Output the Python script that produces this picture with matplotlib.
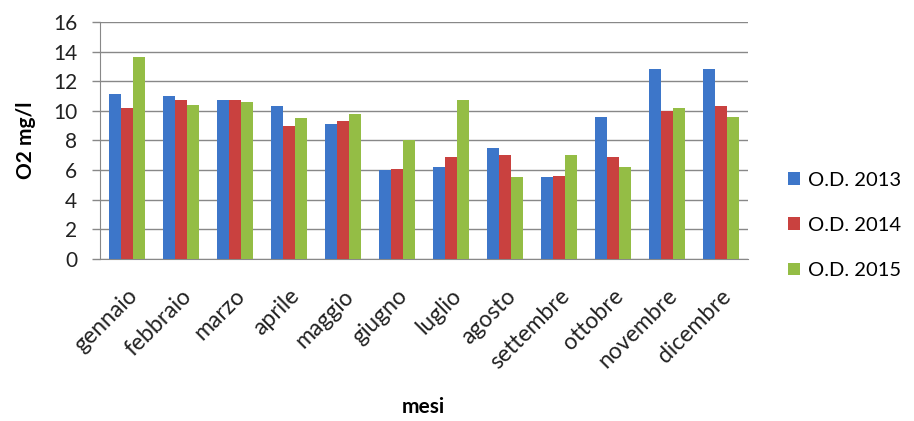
import matplotlib
matplotlib.use("Agg")
import matplotlib.pyplot as plt
import numpy as np

# Monthly dissolved oxygen (mg/l) for three years
mesi = ["gennaio", "febbraio", "marzo", "aprile", "maggio", "giugno",
        "luglio", "agosto", "settembre", "ottobre", "novembre", "dicembre"]
od_2013 = [11.1, 11.0, 10.7, 10.3, 9.1, 6.0, 6.2, 7.5, 5.5, 9.6, 12.8, 12.8]
od_2014 = [10.2, 10.7, 10.7, 9.0, 9.3, 6.1, 6.9, 7.0, 5.6, 6.9, 10.0, 10.3]
od_2015 = [13.6, 10.4, 10.6, 9.5, 9.8, 8.0, 10.7, 5.5, 7.0, 6.2, 10.2, 9.6]
serie = ["O.D. 2013", "O.D. 2014", "O.D. 2015"]
yticks = [0, 2, 4, 6, 8, 10, 12, 14, 16]

colori = ["#3D76C9", "#C9413F", "#94BD45"]

plt.rcParams["font.family"] = ["Lato", "DejaVu Sans"]

fig = plt.figure(figsize=(9.14, 4.21), dpi=100)
ax = fig.add_axes([0.109, 0.385, 0.709, 0.563])

x = np.arange(len(mesi))
w = 0.222
for i, (vals, lab, col) in enumerate(zip([od_2013, od_2014, od_2015], serie, colori)):
    ax.bar(x + (i - 1) * w, vals, width=w, color=col, label=lab, zorder=3,
           edgecolor="none")

ax.set_xlim(-0.5, len(mesi) - 0.5)
ax.set_ylim(0, 16)
ax.set_yticks(yticks)
ax.set_yticklabels([str(v) for v in yticks], fontsize=15, color="#222222")
ax.set_xticks(x)
ax.set_xticklabels(mesi, rotation=45, ha="right", rotation_mode="anchor",
                   fontsize=16.5, color="#222222")
ax.tick_params(axis="x", length=0, pad=19)
ax.tick_params(axis="y", length=6, width=1, color="#888888", pad=10)

ax.grid(axis="y", color="#888888", linewidth=1, zorder=0)
for s in ["top", "right"]:
    ax.spines[s].set_visible(False)
ax.spines["left"].set_color("#888888")
ax.spines["bottom"].set_color("#888888")

ax.set_ylabel("O2 mg/l", fontsize=15, fontweight="bold", labelpad=12)
ax.set_xlabel("mesi", fontsize=15, fontweight="bold", labelpad=17)

leg = fig.legend(loc="upper left", bbox_to_anchor=(0.842, 0.635), frameon=False,
                 fontsize=14.5, handlelength=0.6, handleheight=0.6,
                 handletextpad=0.4, labelspacing=1.4)

fig.savefig("out.png", dpi=100)
